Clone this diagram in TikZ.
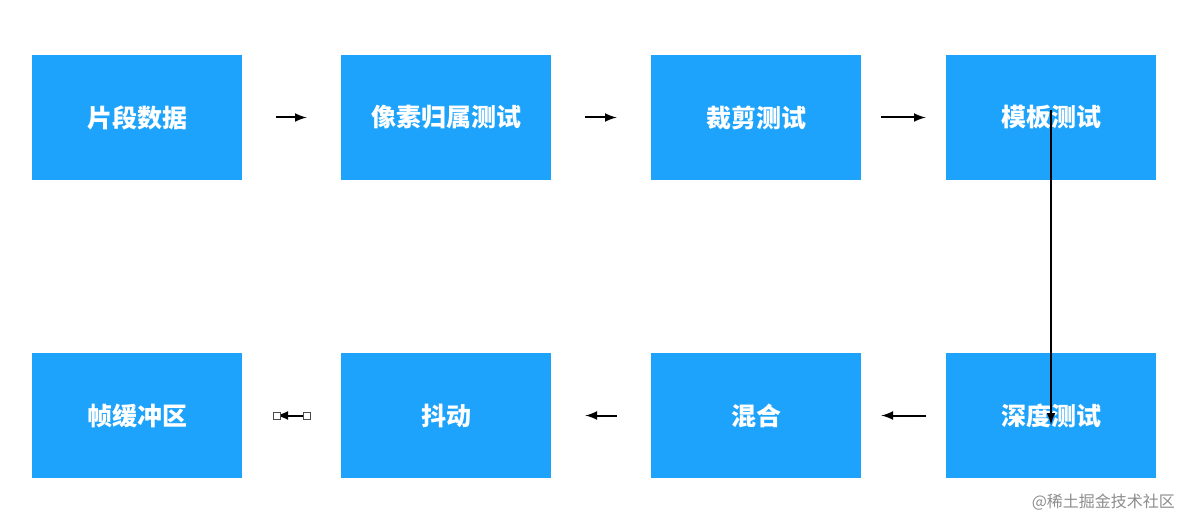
\documentclass[tikz,border=0pt]{standalone}
\usepackage{fontspec}
\newfontfamily\cjk{Noto Sans CJK SC}
\usetikzlibrary{positioning}
\definecolor{boxblue}{HTML}{1DA3FB}
\begin{document}
\begin{tikzpicture}[x=0.5pt,y=-0.5pt,
  block/.style={fill=boxblue,minimum width=105pt,minimum height=62.5pt,inner sep=0pt,
    text=white,font=\cjk\bfseries\fontsize{12.5}{14}\selectfont},
  to/.style={-latex,line width=1pt},
  handle/.style={draw=black!70,fill=white,line width=0.4pt,minimum size=3.5pt,inner sep=0pt}]
  \useasboundingbox (0,0) rectangle (1200,529);

  % top row
  \node[block] (frag) at (137,117.5) {片段数据};
  \node[block] (own) at (446,117.5) {像素归属测试};
  \node[block] (clip) at (756,117.5) {裁剪测试};
  \node[block] (stencil) at (1051,117.5) {模板测试};
  % bottom row
  \node[block] (depth) at (1051,415.5) {深度测试};
  \node[block] (blend) at (756,415.5) {混合};
  \node[block] (dither) at (446,415.5) {抖动};
  \node[block] (fb) at (137,415.5) {帧缓冲区};

  \draw[to] ([xshift=17]frag.east) -- ([xshift=-17]own.west);
  \draw[to] ([xshift=17]own.east) -- ([xshift=-17]clip.west);
  \draw[to] ([xshift=10]clip.east) -- ([xshift=-10]stencil.west);
  \draw[to] ([yshift=35]stencil.south) -- ([yshift=-36]depth.north);
  \draw[to] ([xshift=-10]depth.west) -- ([xshift=10]blend.east);
  \draw[to] ([xshift=-17]blend.west) -- ([xshift=17]dither.east);

  \coordinate (hs) at ([xshift=-17]dither.west);
  \coordinate (he) at ([xshift=17]fb.east);
  \draw[to] (hs) -- (he);
  \node[handle] at (hs) {};
  \node[handle] at (he) {};

  \node[text=black!45,font=\cjk\fontsize{8}{10}\selectfont,anchor=east] (mark) at (1182,502) {@稀土掘金技术社区};
\end{tikzpicture}
\end{document}
